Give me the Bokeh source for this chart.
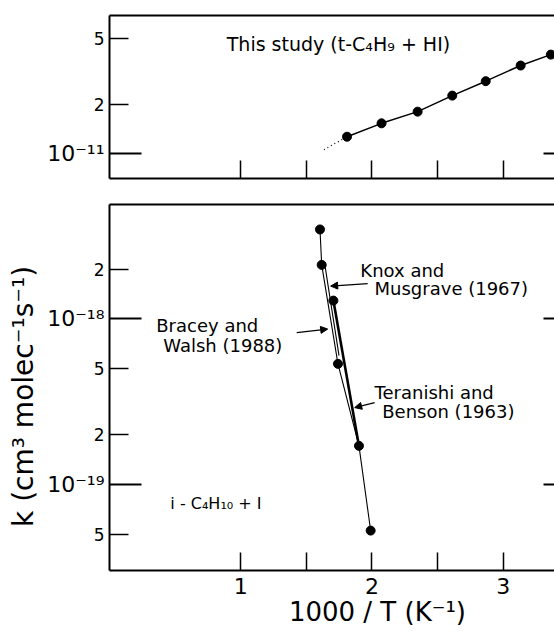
from bokeh.plotting import figure
from bokeh.models import Range1d, FixedTicker, LogAxis, LinearAxis, Label, Arrow, NormalHead
from bokeh.layouts import column
from bokeh.embed import file_html
from bokeh.resources import INLINE

FONT = "DejaVu Sans"
NBSP = "\u00a0"

# ---------------- data ----------------
# upper panel: this study (t-C4H9 + HI)
top_x = [1.810, 2.073, 2.348, 2.612, 2.867, 3.133, 3.363]
top_k = [1.27e-11, 1.53e-11, 1.80e-11, 2.25e-11, 2.75e-11, 3.42e-11, 3.98e-11]
top_extrap_x = [1.634, 1.810]
top_extrap_k = [1.06e-11, 1.27e-11]

# lower panel: i-C4H10 + I
bot_x = [1.604, 1.617, 1.706, 1.741, 1.901, 1.990]
bot_k = [3.47e-18, 2.12e-18, 1.29e-18, 5.35e-19, 1.71e-19, 5.26e-20]
bracey_x = [1.604, 1.617, 1.741, 1.901, 1.990]
bracey_k = [3.47e-18, 2.12e-18, 5.35e-19, 1.71e-19, 5.26e-20]
knox_x = [1.642, 1.749]
knox_k = [2.10e-18, 6.0e-19]
teranishi_x = [1.706, 1.901]
teranishi_k = [1.29e-18, 1.71e-19]

# ticks
x_major = [1, 2, 3]
x_major_labels = ["1", "2", "3"]
x_minor = [1.5, 2.5, 3.5]
top_major = [1e-11]
top_major_labels = ["10\u207b\u00b9\u00b9"]
top_minor = [2e-11, 5e-11]
top_minor_labels = ["2", "5"]
bot_major = [1e-19, 1e-18]
bot_major_labels = ["10\u207b\u00b9\u2079", "10\u207b\u00b9\u2078"]
bot_minor = [5e-20, 2e-19, 5e-19, 2e-18]
bot_minor_labels = ["5", "2", "5", "2"]

X_RANGE = (0, 3.391)
TOP_Y = (7.10e-12, 6.86e-11)
BOT_Y = (3.02e-20, 4.91e-18)

# page-pixel model of the layout (used only to place annotations)
X0_PX, PX_PER_X, PX_PER_DEC = 108.7, 131.3, 165.5


def dx(px):
    return (px - X0_PX) / PX_PER_X


def tk(py):
    return 10 ** (-11 + (153.3 - py) / PX_PER_DEC)


def bk(py):
    return 10 ** (-18 + (318.3 - py) / PX_PER_DEC)


HIDDEN = dict(major_label_text_font_size="1px", major_label_text_color=None,
              major_label_standoff=0)


def make_panel(height, yr, min_top, min_bottom, major, major_labels, minor, minor_labels, xlabels):
    p = figure(width=554, height=height, x_range=Range1d(*X_RANGE), y_range=Range1d(*yr),
               x_axis_location=None, y_axis_location=None, y_axis_type="log",
               output_backend="svg", toolbar_location=None,
               min_border_left=109, min_border_right=0,
               min_border_top=min_top, min_border_bottom=min_bottom)
    p.grid.visible = False
    p.outline_line_color = None
    p.background_fill_color = "white"
    p.border_fill_color = "white"

    # inner left axis: frame line, all ticks, small "2"/"5" labels
    inner = LogAxis(ticker=FixedTicker(ticks=minor, minor_ticks=major),
                    major_tick_in=19, major_tick_out=0, minor_tick_in=32, minor_tick_out=0,
                    major_tick_line_width=1.5, minor_tick_line_width=2, axis_line_width=2,
                    major_label_overrides=dict(zip(minor, minor_labels)),
                    major_label_text_font=FONT, major_label_text_font_size="17px",
                    major_label_text_color="black", major_label_standoff=5)
    p.add_layout(inner, "left")
    # outer left axis: decade labels (10^-n), no line / ticks
    outer = LogAxis(ticker=FixedTicker(ticks=major), axis_line_color=None,
                    major_tick_in=0, major_tick_out=0, minor_tick_in=0, minor_tick_out=0,
                    major_label_overrides=dict(zip(major, major_labels)),
                    major_label_text_font=FONT, major_label_text_font_size="22px",
                    major_label_text_color="black", major_label_standoff=-14)
    p.add_layout(outer, "left")

    right = LogAxis(ticker=FixedTicker(ticks=major), axis_line_color=None,
                    major_tick_in=11, major_tick_out=0, minor_tick_in=0, minor_tick_out=0,
                    major_tick_line_width=2, **HIDDEN)
    p.add_layout(right, "right")

    above = LinearAxis(ticker=FixedTicker(ticks=x_major), axis_line_width=2,
                       major_tick_in=0, major_tick_out=0, minor_tick_in=0, minor_tick_out=0,
                       **HIDDEN)
    p.add_layout(above, "above")

    below = LinearAxis(ticker=FixedTicker(ticks=x_major, minor_ticks=x_minor),
                       major_tick_in=18, major_tick_out=0, minor_tick_in=18, minor_tick_out=0,
                       major_tick_line_width=1.5, minor_tick_line_width=1.5, axis_line_width=2)
    if xlabels:
        below.major_label_overrides = dict(zip(x_major, x_major_labels))
        below.major_label_text_font = FONT
        below.major_label_text_font_size = "22px"
        below.major_label_text_color = "black"
        below.major_label_standoff = 7
    else:
        below.major_label_text_font_size = "1px"
        below.major_label_text_color = None
        below.major_label_standoff = 0
    p.add_layout(below, "below")
    return p, outer, below


# ---------------- upper panel ----------------
top, _, _ = make_panel(193, TOP_Y, 15, 15, top_major, top_major_labels,
                       top_minor, top_minor_labels, False)
top.line(top_extrap_x, top_extrap_k, line_color="black", line_width=1.2, line_dash="1 3")
top.line(top_x, top_k, line_color="black", line_width=1.5, level="overlay")
top.scatter(top_x, top_k, size=9, color="black", level="overlay")
top.add_layout(Label(x=dx(226), y=tk(43), text="This study (t-C\u2084H\u2089 + HI)",
                     text_baseline="middle", text_font=FONT, text_font_size="19px",
                     text_color="black"))

# ---------------- lower panel ----------------
bot, bouter, bbelow = make_panel(440, BOT_Y, 11, 63, bot_major, bot_major_labels,
                                 bot_minor, bot_minor_labels, True)
bbelow.axis_label = NBSP * 12 + "1000 / T  (K\u207b\u00b9)"
bbelow.axis_label_text_font = FONT
bbelow.axis_label_text_font_size = "26px"
bbelow.axis_label_text_font_style = "normal"
bbelow.axis_label_text_color = "black"
bbelow.axis_label_standoff = 0
bouter.axis_label = "k (cm\u00b3 molec\u207b\u00b9s\u207b\u00b9)" + NBSP * 2
bouter.axis_label_text_font = FONT
bouter.axis_label_text_font_size = "28px"
bouter.axis_label_text_font_style = "normal"
bouter.axis_label_text_color = "black"
bouter.axis_label_standoff = 4

bot.line(bracey_x, bracey_k, line_color="black", line_width=1.1)
bot.line(knox_x, knox_k, line_color="black", line_width=1.1)
bot.line(teranishi_x, teranishi_k, line_color="black", line_width=2.6)
bot.scatter(bot_x, bot_k, size=9, color="black")

texts = [
    ("Knox and", 359.7, 270),
    ("Musgrave (1967)", 373.9, 288),
    ("Bracey and", 155.5, 325),
    ("Walsh (1988)", 162.5, 345),
    ("Teranishi and", 373.9, 391.7),
    ("Benson (1963)", 381.6, 410.7),
]
for t, px, py in texts:
    bot.add_layout(Label(x=dx(px), y=bk(py), text=t, text_baseline="middle",
                         text_font=FONT, text_font_size="18px", text_color="black"))
bot.add_layout(Label(x=dx(169.6), y=bk(503.3), text="i - C\u2084H\u2081\u2080 + I",
                     text_baseline="middle", text_font=FONT, text_font_size="16px",
                     text_color="black"))

arrows = [
    ((367, 283), (330, 285.5)),
    ((296, 332), (327, 328.5)),
    ((374, 402), (354, 407)),
]
for (sx, sy), (ex, ey) in arrows:
    bot.add_layout(Arrow(x_start=dx(sx), y_start=bk(sy), x_end=dx(ex), y_end=bk(ey),
                         line_width=1.2, line_color="black",
                         end=NormalHead(size=7, fill_color="black", line_color="black")))

layout = column(top, bot, spacing=0)
open("out.html", "w").write(file_html(layout, INLINE))
